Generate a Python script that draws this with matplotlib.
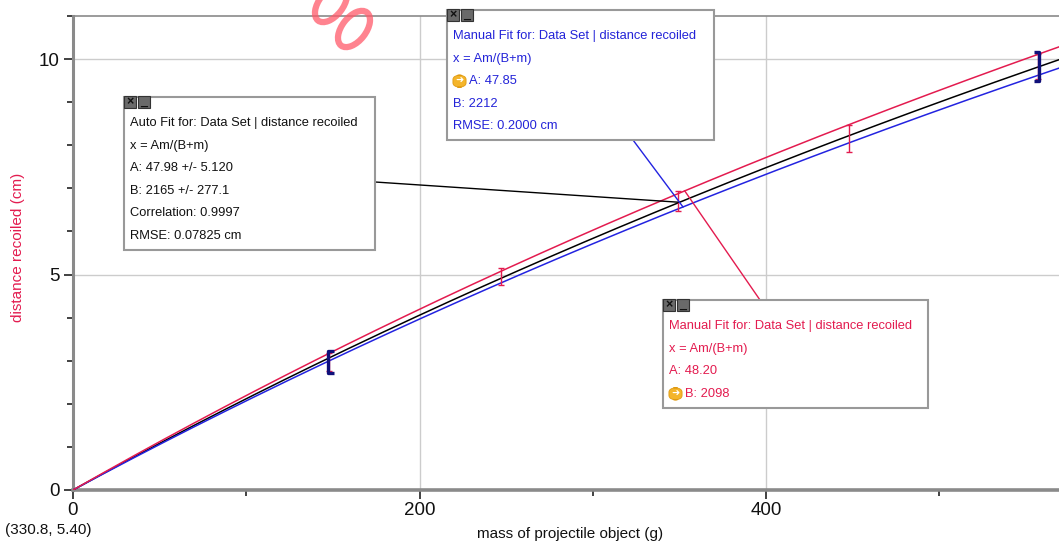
import numpy as np
import matplotlib
matplotlib.use('Agg')
import matplotlib.pyplot as plt
import matplotlib.ticker as ticker
from matplotlib.patches import Rectangle, FancyBboxPatch, Ellipse

plt.rcParams['font.family'] = ['Liberation Sans', 'DejaVu Sans']

W, H = 1059, 543

# measured data (mass in g, distance in cm)
mass = [148, 247, 349, 448, 557]
distance = [2.97, 4.96, 6.71, 8.16, 9.83]
dist_err = [0.21, 0.20, 0.24, 0.31, 0.29]
selected = [0, 4]

# fits x = A m / (B + m)
fit_names = ['auto', 'manual_blue', 'manual_red']
fit_A = [47.98, 47.85, 48.20]
fit_B = [2165, 2212, 2098]
fit_colors = ['black', '#2323e0', '#e31b4f']

RED = '#e31b4f'
BLUE = '#2323d8'
NAVY = '#10107a'


def fx(px):
    return px / W


def fy(py):
    return 1 - py / H


def model(m, a, b):
    return a * m / (b + m)


fig = plt.figure(figsize=(W / 100, H / 100), dpi=100)
ax = fig.add_axes([fx(73), fy(490), fx(W - 73), (490 - 16) / H])

m = np.linspace(0, 580, 300)
for a, b, c in zip(fit_A, fit_B, fit_colors):
    ax.plot(m, model(m, a, b), color=c, lw=1.1, zorder=3)

ax.errorbar(mass, distance, yerr=dist_err, fmt='none', ecolor=RED,
            elinewidth=1.0, capsize=2.4, capthick=1.0, zorder=4)

# selection brackets
for i in selected:
    x0, y0, e = mass[i], distance[i], dist_err[i]
    off = -0.6 if i == 0 else 0.6
    cap = 3.0 if i == 0 else -3.0
    xs = [x0 + off + cap, x0 + off, x0 + off, x0 + off + cap]
    ys = [y0 + e + 0.04, y0 + e + 0.04, y0 - e - 0.04, y0 - e - 0.04]
    ax.plot(xs, ys, color=NAVY, lw=2.4, zorder=5, solid_capstyle='butt')

ax.set_xlim(0, 569)
ax.set_ylim(0, 11.0)

ax.xaxis.set_major_locator(ticker.MultipleLocator(200))
ax.xaxis.set_minor_locator(ticker.MultipleLocator(100))
ax.yaxis.set_major_locator(ticker.MultipleLocator(5))
ax.yaxis.set_minor_locator(ticker.MultipleLocator(1))
ax.grid(True, which='major', color='#cccccc', lw=1.0)
ax.set_axisbelow(True)

ax.tick_params(which='both', direction='out', color='#333333', width=1.3,
               labelsize=13.5, labelcolor='#111111')
ax.tick_params(which='major', length=6.5)
ax.tick_params(which='minor', length=4)
ax.tick_params(axis='x', which='major', pad=2)
ax.tick_params(axis='y', which='major', pad=3)

ax.spines['right'].set_visible(False)
ax.spines['left'].set_color('#8a8a8a')
ax.spines['left'].set_linewidth(2.2)
ax.spines['bottom'].set_color('#8a8a8a')
ax.spines['bottom'].set_linewidth(2.6)
ax.spines['top'].set_color('#8a8a8a')
ax.spines['top'].set_linewidth(1.2)

fig.text(fx(570), fy(534), 'mass of projectile object (g)', ha='center',
         va='center', fontsize=11, color='#111111')
fig.text(fx(18), fy(247), 'distance recoiled (cm)', ha='center', va='center',
         rotation=90, fontsize=11, color=RED)
fig.text(fx(5), fy(530), '(330.8, 5.40)', ha='left', va='center',
         fontsize=11, color='#111111')

# stray red stamp at the top
for cx, cy in [(331, 4), (354, 29)]:
    fig.add_artist(Ellipse((cx / 100, (H - cy) / 100), 0.42, 0.24, angle=52,
                           transform=fig.dpi_scale_trans, facecolor='none',
                           edgecolor='#ff5a6a', lw=4.5, alpha=0.75, zorder=8))


def to_px(xd, yd):
    X, Y = ax.transData.transform((xd, yd))
    return X, H - Y


def connector(start_px, m_anchor, a, b, color):
    ex, ey = to_px(m_anchor, model(m_anchor, a, b))
    fig.add_artist(plt.Line2D([fx(start_px[0]), fx(ex)], [fy(start_px[1]), fy(ey)],
                              color=color, lw=1.0, zorder=6))


def fit_box(left, top, right, bottom, lines, color, icon_rows=()):
    fig.add_artist(Rectangle((fx(left), fy(bottom)), fx(right - left), (bottom - top) / H,
                             facecolor='white', edgecolor='#999999', lw=1.5, zorder=10))
    # close / minimise buttons
    for k, glyph in enumerate(['×', '_']):
        bx = left + k * 14
        fig.add_artist(Rectangle((fx(bx), fy(top + 11)), fx(12), 12 / H,
                                 facecolor='#6a6a6a', edgecolor='#333333', lw=0.8, zorder=11))
        fig.text(fx(bx + 6), fy(top + 5), glyph, ha='center', va='center',
                 fontsize=9, color='#111111', fontweight='bold', zorder=12)
    for k, txt in enumerate(lines):
        yy = top + 26 + k * 22.6
        xx = left + 6
        if k in icon_rows:
            fig.add_artist(FancyBboxPatch((fx(xx + 1), fy(yy + 5.5)), fx(11), 11 / H,
                                          boxstyle='round,pad=0.001,rounding_size=0.008',
                                          facecolor='#f4b52b', edgecolor='#e09a10', lw=0.6,
                                          zorder=11))
            fig.text(fx(xx + 6.5), fy(yy), '➜', ha='center', va='center',
                     fontsize=7, color='white', zorder=12)
            xx += 16
        fig.text(fx(xx), fy(yy), txt, ha='left', va='center', fontsize=9.3,
                 color=color, zorder=12)


connector((375, 182), 350, fit_A[0], fit_B[0], 'black')
connector((633, 140), 352, fit_A[1], fit_B[1], fit_colors[1])
connector((760, 300), 353, fit_A[2], fit_B[2], fit_colors[2])

fit_box(124, 97, 375, 250,
        ['Auto Fit for: Data Set | distance recoiled',
         'x = Am/(B+m)',
         'A: %.2f +/- 5.120' % fit_A[0],
         'B: %d +/- 277.1' % fit_B[0],
         'Correlation: 0.9997',
         'RMSE: 0.07825 cm'], '#111111')

fit_box(447, 10, 714, 140,
        ['Manual Fit for: Data Set | distance recoiled',
         'x = Am/(B+m)',
         'A: %.2f' % fit_A[1],
         'B: %d' % fit_B[1],
         'RMSE: 0.2000 cm'], BLUE, icon_rows=(2,))

fit_box(663, 300, 928, 408,
        ['Manual Fit for: Data Set | distance recoiled',
         'x = Am/(B+m)',
         'A: %.2f' % fit_A[2],
         'B: %d' % fit_B[2]], RED, icon_rows=(3,))

fig.savefig('out.png', dpi=100)
